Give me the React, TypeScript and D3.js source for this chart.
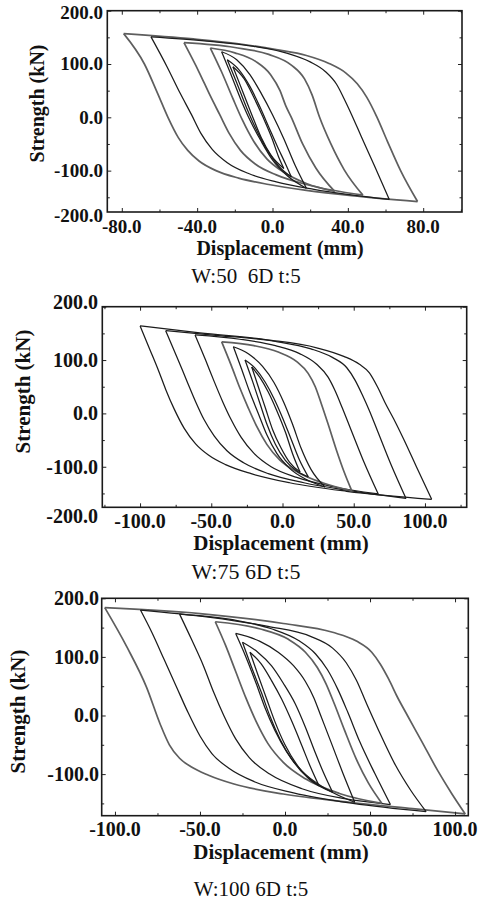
import React, { useEffect, useRef } from 'react';
import * as d3 from 'd3';

type Pt = [number, number];
type Loop = { lower: Pt[]; upper: Pt[] };

// Displacement (mm) / strength (kN).
// lower = branch that drops from the top-left peak first, upper = branch along the top.
const W50_LOOPS: Loop[] = [
  {
    lower: [[-79, 157], [-68, 100], [-61, 45], [-55.5, 0], [-50, -38], [-45, -62], [-39, -82], [-30, -100], [-18, -114], [-2, -126], [18, -137], [42, -147], [77, -158]],
    upper: [[-79, 157], [-42, 147], [-18, 138], [2, 127], [18, 116], [30, 101], [39, 83], [45, 63], [50, 38], [55.5, 0], [61, -45], [68, -100], [77, -158]],
  },
  {
    lower: [[-64.5, 151], [-56, 95], [-49, 45], [-43, 5], [-38, -30], [-32, -60], [-24, -85], [-13, -105], [2, -121], [22, -135], [62, -154]],
    upper: [[-64.5, 151], [-35, 143], [-10, 133], [8, 120], [20, 104], [28, 86], [34, 62], [38, 35], [42, 5], [47, -35], [54, -90], [62, -154]],
  },
  {
    lower: [[-47, 140], [-39, 85], [-33, 40], [-28, 5], [-23, -30], [-17, -62], [-9, -88], [2, -108], [18, -126], [48, -146]],
    upper: [[-47, 140], [-20, 131], [-2, 118], [10, 98], [17, 72], [21, 42], [25, 0], [31, -50], [38, -98], [48, -146]],
  },
  {
    lower: [[-33, 130], [-27, 85], [-21, 35], [-16, -5], [-10, -45], [-3, -78], [6, -103], [18, -124], [33, -139]],
    upper: [[-33, 130], [-20, 121], [-9, 105], [-1, 80], [4, 50], [7, 22], [10, 0], [16, -50], [23, -95], [33, -139]],
  },
  {
    lower: [[-27, 123], [-22, 80], [-17, 35], [-12, -5], [-6, -45], [0, -80], [8, -110], [18, -133]],
    upper: [[-27, 123], [-19, 108], [-12, 80], [-6, 45], [0, 5], [6, -40], [12, -90], [18, -133]],
  },
  {
    lower: [[-24, 108], [-19, 65], [-14, 20], [-9, -20], [-3, -60], [3, -90], [10, -112]],
    upper: [[-24, 108], [-18, 90], [-12, 58], [-7, 22], [-2, -18], [3, -58], [7, -88], [10, -112]],
  },
  {
    lower: [[-21, 95], [-16, 50], [-11, 5], [-6, -38], [-1, -70], [6, -96]],
    upper: [[-21, 95], [-15, 72], [-10, 38], [-5, 0], [0, -42], [3, -72], [6, -96]],
  },
];

const W75_LOOPS: Loop[] = [
  {
    lower: [[-100, 164], [-93, 119], [-87, 80], [-82, 45], [-76, 8], [-69, -28], [-61, -57], [-52, -78], [-40, -96], [-22, -113], [5, -130], [45, -146], [104.7, -161]],
    upper: [[-100, 164], [-58, 151], [-11, 138], [24, 123], [43, 107], [54, 92], [61, 76], [67, 48], [72, 20], [78, -10], [85, -48], [94, -100], [104.7, -161]],
  },
  {
    lower: [[-82, 155], [-74, 105], [-67, 60], [-61, 22], [-55, -12], [-48, -42], [-39, -70], [-27, -93], [-10, -113], [15, -130], [45, -144], [86.7, -159.5]],
    upper: [[-82, 155], [-45, 146], [-5, 135], [20, 121], [35, 105], [45, 86], [51, 62], [56, 35], [61, 5], [67, -35], [76, -95], [86.7, -159.5]],
  },
  {
    lower: [[-61.4, 147], [-54, 100], [-48, 60], [-42, 22], [-36, -12], [-29, -45], [-20, -75], [-8, -100], [10, -120], [35, -137], [67.2, -151]],
    upper: [[-61.4, 147], [-30, 139], [-5, 127], [12, 112], [24, 92], [32, 68], [37, 42], [42, 10], [48, -30], [57, -90], [67.2, -151]],
  },
  {
    lower: [[-42.7, 134], [-36, 90], [-30, 48], [-24, 10], [-18, -25], [-11, -58], [-2, -87], [12, -112], [28, -130], [48.6, -145]],
    upper: [[-42.7, 134], [-20, 127], [-3, 115], [10, 97], [18, 75], [23, 50], [27, 20], [32, -20], [38, -70], [43, -108], [48.6, -145]],
  },
  {
    lower: [[-34.5, 125], [-29, 85], [-23, 40], [-17, 0], [-11, -40], [-4, -75], [5, -103], [16, -123], [29.8, -138]],
    upper: [[-34.5, 125], [-24, 112], [-14, 88], [-6, 58], [1, 20], [7, -20], [13, -65], [20, -105], [29.8, -138]],
  },
  {
    lower: [[-26.3, 100], [-21, 60], [-16, 20], [-11, -20], [-5, -58], [2, -88], [10, -108], [18.1, -119]],
    upper: [[-26.3, 100], [-19, 84], [-12, 58], [-6, 28], [0, -8], [6, -48], [12, -88], [18.1, -119]],
  },
  {
    lower: [[-21.6, 87], [-17, 50], [-12, 10], [-7, -30], [-1, -65], [5, -92], [12.3, -110]],
    upper: [[-21.6, 87], [-16, 68], [-10, 40], [-4, 5], [2, -35], [7, -75], [12.3, -110]],
  },
];

const W100_LOOPS: Loop[] = [
  {
    lower: [[-106, 184], [-93, 117], [-81.4, 48], [-73.5, -14], [-68, -50], [-62, -73], [-55, -88], [-45, -102], [-30, -117], [-1, -134], [38, -148], [75, -159], [106, -168]],
    upper: [[-106, 184], [-50, 174], [-1, 157], [28, 142], [42, 127], [51, 108], [56, 88], [61, 62], [66, 32], [72, 0], [80, -42], [90, -95], [98, -133], [106, -168]],
  },
  {
    lower: [[-85, 180], [-78, 140], [-71, 95], [-64, 50], [-57, 5], [-50, -35], [-43, -65], [-33, -90], [-18, -113], [5, -132], [40, -150], [83, -164]],
    upper: [[-85, 180], [-45, 168], [-10, 152], [15, 135], [28, 115], [36, 90], [42, 60], [48, 20], [55, -25], [65, -85], [74, -128], [83, -164]],
  },
  {
    lower: [[-62, 173], [-55, 130], [-48, 85], [-42, 40], [-36, 0], [-29, -40], [-21, -72], [-9, -100], [10, -125], [35, -142], [62, -152]],
    upper: [[-62, 173], [-30, 163], [-8, 148], [8, 128], [18, 105], [25, 78], [31, 45], [37, 5], [44, -45], [53, -100], [62, -152]],
  },
  {
    lower: [[-41, 160], [-35, 120], [-29, 75], [-23, 30], [-17, -10], [-10, -48], [-1, -80], [12, -108], [32, -133], [57, -150]],
    upper: [[-41, 160], [-15, 148], [2, 130], [12, 108], [19, 82], [24, 55], [29, 20], [35, -25], [42, -75], [49, -115], [57, -150]],
  },
  {
    lower: [[-29, 140], [-23, 100], [-17, 55], [-12, 15], [-6, -25], [1, -62], [10, -95], [24, -125], [41, -148]],
    upper: [[-29, 140], [-15, 127], [-4, 108], [5, 85], [12, 58], [17, 30], [21, 0], [27, -45], [34, -98], [41, -148]],
  },
  {
    lower: [[-25, 125], [-20, 85], [-14, 40], [-9, 0], [-3, -40], [4, -75], [14, -108], [28, -131]],
    upper: [[-25, 125], [-16, 108], [-8, 85], [-1, 55], [6, 20], [12, -20], [18, -65], [23, -100], [28, -131]],
  },
  {
    lower: [[-20.6, 108], [-16, 70], [-11, 30], [-6, -10], [0, -50], [8, -88], [20, -120]],
    upper: [[-20.6, 108], [-14, 88], [-8, 60], [-2, 28], [4, -10], [10, -52], [15, -88], [20, -120]],
  },
];

const W50_XTICKS = [-80, -40, 0, 40, 80];
const W50_XMINOR = [-60, -20, 20, 60, 100];
const W75_XTICKS = [-100, -50, 0, 50, 100];
const W75_XMINOR = [-125, -75, -25, 25, 75, 125];
const W100_XTICKS = [-100, -50, 0, 50, 100];
const W100_XMINOR = [-75, -25, 25, 75];
const Y_TICKS_FULL = [200, 100, 0, -100, -200];
const Y_TICKS_SHORT = [200, 100, 0, -100];
const Y_MINOR = [150, 50, -50, -150];
const CAPTIONS = ['W:50  6D t:5', 'W:75 6D t:5', 'W:100 6D t:5'];

const SERIF = "'Liberation Serif', 'Times New Roman', serif";

const PANELS = [
  {
    loops: W50_LOOPS, grey: [0, 2, 3], xTicks: W50_XTICKS, xMinor: W50_XMINOR, yTicks: Y_TICKS_FULL,
    caption: CAPTIONS[0], yNudge: { 200: 2, [-200]: 4 } as Record<number, number>,
    box: { l: 107.3, r: 462, t: 10.7, b: 212 }, xDom: [-87.7, 100.6], yDom: [-177.6, 200],
    fs: 19, yLabX: 103, yTitleX: 44, yTitleY: 103.5, xLabY: 233, xTitleX: 280, xTitleY: 255, capX: 246, capY: 283, capFs: 21,
  },
  {
    loops: W75_LOOPS, grey: [3], xTicks: W75_XTICKS, xMinor: W75_XMINOR, yTicks: Y_TICKS_FULL,
    caption: CAPTIONS[1], yNudge: { 200: -5, [-200]: 9 } as Record<number, number>,
    box: { l: 102.3, r: 466.7, t: 306.7, b: 507.3 }, xDom: [-126.5, 129.3], yDom: [-176, 200],
    fs: 20, yLabX: 98, yTitleX: 30, yTitleY: 391.5, xLabY: 528, xTitleX: 281, xTitleY: 550, capX: 246, capY: 579, capFs: 22,
  },
  {
    loops: W100_LOOPS, grey: [0, 3], xTicks: W100_XTICKS, xMinor: W100_XMINOR, yTicks: Y_TICKS_SHORT,
    caption: CAPTIONS[2], yNudge: {} as Record<number, number>,
    box: { l: 101.7, r: 468.3, t: 598.3, b: 815.7 }, xDom: [-107.8, 107.8], yDom: [-171, 200],
    fs: 20, yLabX: 99, yTitleX: 25, yTitleY: 711.5, xLabY: 836, xTitleX: 281, xTitleY: 859, capX: 251, capY: 896, capFs: 21,
  },
];

export default function App() {
  const svgRef = useRef<SVGSVGElement>(null);

  useEffect(() => {
    const svg = d3.select(svgRef.current);
    svg.selectAll('*').remove();
    const fmt = (d: number) => d.toFixed(1);

    PANELS.forEach((p) => {
      const { box } = p;
      const x = d3.scaleLinear().domain(p.xDom).range([box.l, box.r]);
      const y = d3.scaleLinear().domain(p.yDom).range([box.b, box.t]).clamp(true);
      const g = svg.append('g');

      const line = d3.line<Pt>().x(d => x(d[0])).y(d => y(d[1])).curve(d3.curveMonotoneX);

      p.loops.forEach((loop, i) => {
        const grey = p.grey.includes(i);
        [loop.lower, loop.upper].forEach(branch => {
          g.append('path').datum(branch).attr('d', line)
            .attr('fill', 'none')
            .attr('stroke', grey ? '#5e5e5e' : '#1c1c1c')
            .attr('stroke-width', grey ? 1.7 : 1.25)
            .attr('stroke-linejoin', 'round');
        });
      });

      // inward ticks on all four sides
      const tickStyle = (sel: any) => {
        sel.select('.domain').remove();
        sel.selectAll('line').attr('stroke', '#222').attr('stroke-width', 1);
        sel.selectAll('text').remove();
      };
      const xMajor = p.xTicks.filter(v => v >= p.xDom[0] && v <= p.xDom[1]);
      const xMin = p.xMinor.filter(v => v > p.xDom[0] && v < p.xDom[1]);
      const yMajor = p.yTicks.filter(v => v > p.yDom[0]);
      const yMin = Y_MINOR.filter(v => v > p.yDom[0]);
      [[xMajor, 4], [xMin, 2.5]].forEach(([vals, len]: any) => {
        g.append('g').attr('transform', `translate(0,${box.b})`)
          .call(d3.axisBottom(x).tickValues(vals).tickSize(-len)).call(tickStyle);
        g.append('g').attr('transform', `translate(0,${box.t})`)
          .call(d3.axisTop(x).tickValues(vals).tickSize(-len)).call(tickStyle);
      });
      [[yMajor, 4], [yMin, 2.5]].forEach(([vals, len]: any) => {
        g.append('g').attr('transform', `translate(${box.l},0)`)
          .call(d3.axisLeft(y).tickValues(vals).tickSize(-len)).call(tickStyle);
        g.append('g').attr('transform', `translate(${box.r},0)`)
          .call(d3.axisRight(y).tickValues(vals).tickSize(-len)).call(tickStyle);
      });

      g.append('rect').attr('x', box.l).attr('y', box.t)
        .attr('width', box.r - box.l).attr('height', box.b - box.t)
        .attr('fill', 'none').attr('stroke', '#1a1a1a').attr('stroke-width', 1.6);

      // tick labels
      g.selectAll('.xl').data(p.xTicks).join('text')
        .attr('x', d => x(d)).attr('y', p.xLabY)
        .attr('text-anchor', 'middle')
        .style('font-family', SERIF).style('font-weight', 'bold').style('font-size', `${p.fs}px`)
        .style('fill', '#111').text(fmt);
      g.selectAll('.yl').data(p.yTicks).join('text')
        .attr('x', p.yLabX).attr('y', d => y(d) + (p.yNudge[d] || 0)).attr('dy', '0.34em')
        .attr('text-anchor', 'end')
        .style('font-family', SERIF).style('font-weight', 'bold').style('font-size', `${p.fs}px`)
        .style('fill', '#111').text(fmt);

      // axis titles
      g.append('text').attr('x', p.xTitleX).attr('y', p.xTitleY).attr('text-anchor', 'middle')
        .style('font-family', SERIF).style('font-weight', 'bold').style('font-size', `${p.fs + 1}px`)
        .style('fill', '#111').text('Displacement (mm)');
      g.append('text')
        .attr('transform', `translate(${p.yTitleX},${p.yTitleY}) rotate(-90)`)
        .attr('text-anchor', 'middle')
        .style('font-family', SERIF).style('font-weight', 'bold').style('font-size', `${p.fs + 1}px`)
        .style('fill', '#111').text('Strength (kN)');

      g.append('text').attr('x', p.capX).attr('y', p.capY).attr('text-anchor', 'middle')
        .style('font-family', SERIF).style('font-size', `${p.capFs}px`).style('white-space', 'pre')
        .style('fill', '#111').text(p.caption);
    });
  }, []);

  return (
    <div style={{ position: 'absolute', left: 0, top: 0, width: 486, height: 902, background: 'white' }}>
      <svg ref={svgRef} width={486} height={902} style={{ display: 'block' }} />
    </div>
  );
}
